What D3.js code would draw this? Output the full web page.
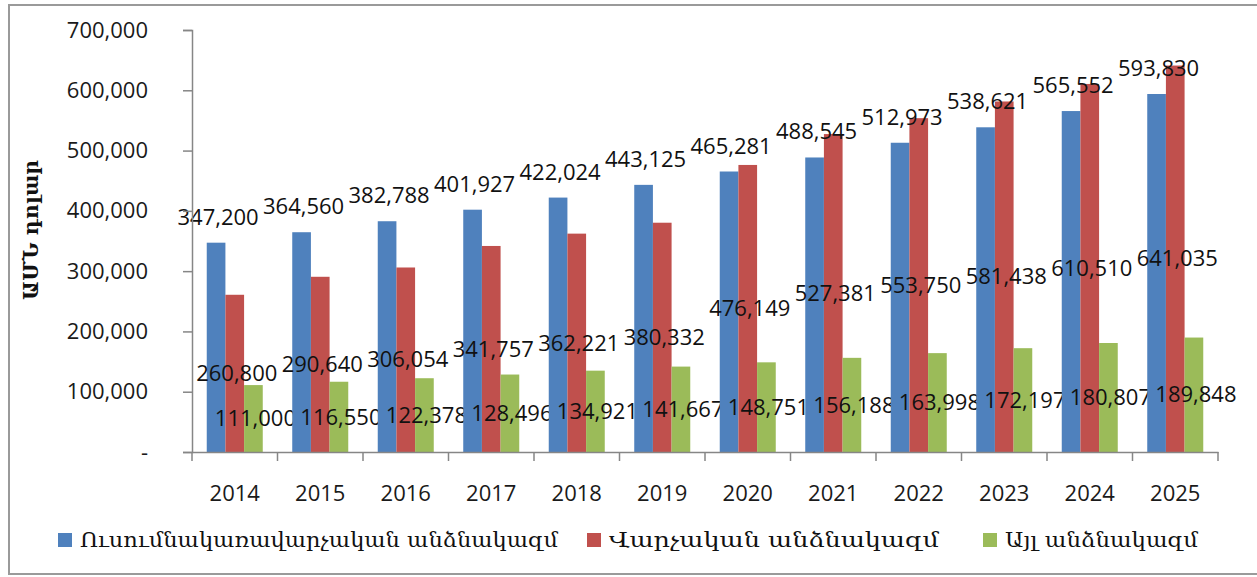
<!DOCTYPE html>
<html>
<head>
<meta charset="utf-8">
<script src="https://cdn.jsdelivr.net/npm/d3@7"></script>
<style>
  body { margin: 0; background: #fff; }
  svg { display: block; }
</style>
</head>
<body>
<div id="chart"></div>
<script>
// values
const years = ["2014", "2015", "2016", "2017", "2018", "2019", "2020", "2021", "2022", "2023", "2024", "2025"];
const teachAdminStaff = [347200, 364560, 382788, 401927, 422024, 443125, 465281, 488545, 512973, 538621, 565552, 593830];
const adminStaff = [260800, 290640, 306054, 341757, 362221, 380332, 476149, 527381, 553750, 581438, 610510, 641035];
const otherStaff = [111000, 116550, 122378, 128496, 134921, 141667, 148751, 156188, 163998, 172197, 180807, 189848];
const seriesNames = ["Ուսումնակառավարչական անձնակազմ", "Վարչական անձնակազմ", "Այլ անձնակազմ"];
const yTicks = [0, 100000, 200000, 300000, 400000, 500000, 600000, 700000];
const yTitle = "ԱՄՆ դոլար";

const colors = ["#4F81BD", "#C0504D", "#9BBB59"];
const keys = ["a", "b", "c"];
const seriesVals = [teachAdminStaff, adminStaff, otherStaff];

const W = 1257, H = 577;
const numFont = "'Open Sans', sans-serif";
const armFont = "'DejaVu Serif', serif";

const svg = d3.select("#chart").append("svg")
    .attr("width", W)
    .attr("height", H);

// outer frame
svg.append("rect")
    .attr("x", 9).attr("y", 5)
    .attr("width", W + 20).attr("height", 569)
    .attr("fill", "none")
    .attr("stroke", "#9a9a9a")
    .attr("stroke-width", 2);

const x = d3.scaleBand().domain(years).range([192, 1218]);
const xSub = d3.scaleBand().domain(keys).range([0, x.bandwidth()]).paddingOuter(0.79);
const y = d3.scaleLinear().domain([0, 700000]).range([452, 30]);

const rows = years.map((yr, i) => ({
  year: yr,
  vals: keys.map((k, j) => ({ key: k, idx: j, value: seriesVals[j][i] }))
}));

// bars
const groups = svg.append("g").selectAll("g")
  .data(rows)
  .join("g")
    .attr("transform", d => `translate(${x(d.year)},0)`);

groups.selectAll("rect")
  .data(d => d.vals)
  .join("rect")
    .attr("x", d => xSub(d.key))
    .attr("y", d => y(d.value))
    .attr("width", xSub.bandwidth())
    .attr("height", d => y(0) - y(d.value))
    .attr("fill", d => colors[d.idx]);

// y axis
const yAxis = svg.append("g")
    .attr("transform", "translate(192,0)")
    .call(d3.axisLeft(y)
      .tickValues(yTicks)
      .tickSize(9)
      .tickPadding(35)
      .tickFormat(d => d === 0 ? "-" : d3.format(",")(d)));
yAxis.select(".domain").attr("stroke", "#868686").attr("stroke-width", 1.5);
yAxis.selectAll(".tick line").attr("stroke", "#868686").attr("stroke-width", 1.5);
yAxis.selectAll(".tick text")
    .attr("font-family", numFont)
    .attr("font-size", 22)
    .attr("fill", "#1a1a1a");

// x axis: labels centred, ticks on category boundaries
const xAxis = svg.append("g")
    .attr("transform", `translate(0,${y(0)})`)
    .call(d3.axisBottom(x).tickSize(0).tickPadding(33));
xAxis.select(".domain").attr("stroke", "#868686").attr("stroke-width", 1.5);
xAxis.selectAll(".tick text")
    .attr("font-family", numFont)
    .attr("font-size", 22)
    .attr("fill", "#1a1a1a");
xAxis.selectAll(".bound")
  .data(years.map(d => x(d)).concat([x.range()[1]]))
  .join("line")
    .attr("class", "bound")
    .attr("x1", d => d).attr("x2", d => d)
    .attr("y1", 0).attr("y2", 9)
    .attr("stroke", "#868686")
    .attr("stroke-width", 1.5);

// data labels (blue above the bar, red and green in the middle)
const fmt = d3.format(",");
groups.selectAll("text.lbl")
  .data(d => d.vals)
  .join("text")
    .attr("class", "lbl")
    .attr("x", d => xSub(d.key) + xSub.bandwidth() / 2 + 2)
    .attr("y", d => d.idx === 0 ? y(d.value) - 18 : y(d.value / 2))
    .attr("dy", d => d.idx === 0 ? 0 : "0.35em")
    .attr("text-anchor", "middle")
    .attr("font-family", numFont)
    .attr("font-size", 22)
    .attr("fill", "#111")
    .text(d => fmt(d.value));

// y title
svg.append("text")
    .attr("transform", "translate(38,230) rotate(-90)")
    .attr("text-anchor", "middle")
    .attr("font-family", armFont)
    .attr("font-weight", "bold")
    .attr("font-size", 21)
    .attr("fill", "#111")
    .attr("textLength", 140)
    .attr("lengthAdjust", "spacingAndGlyphs")
    .text(yTitle);

// legend
const legendX = [58, 587, 983];
const legendW = [478, 330, 193];
const legend = svg.append("g").selectAll("g")
  .data(seriesNames)
  .join("g")
    .attr("transform", (d, i) => `translate(${legendX[i]},540)`);
legend.append("rect")
    .attr("x", 0).attr("y", -7)
    .attr("width", 14).attr("height", 14)
    .attr("fill", (d, i) => colors[i]);
legend.append("text")
    .attr("x", 22)
    .attr("dy", "0.35em")
    .attr("font-family", armFont)
    .attr("font-size", 20)
    .attr("fill", "#111")
    .attr("textLength", (d, i) => legendW[i])
    .attr("lengthAdjust", "spacingAndGlyphs")
    .text(d => d);
</script>
</body>
</html>
